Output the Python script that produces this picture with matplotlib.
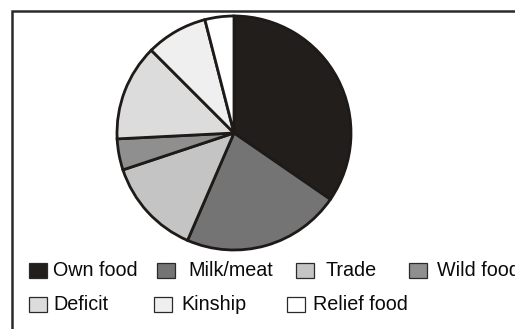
import matplotlib
matplotlib.use("Agg")
import matplotlib.pyplot as plt
from matplotlib.patches import Rectangle

labels = ["Own food", "Milk/meat", "Trade", "Wild food", "Deficit", "Kinship", "Relief food"]
shares = [34.6, 21.9, 13.4, 4.3, 13.3, 8.5, 4.0]
colors = ["#221e1c", "#747474", "#c4c4c4", "#8f8f8f", "#dcdcdc", "#efefef", "#ffffff"]

# legend layout (pixel coords, y from top): square left x, text x, row y
legend_pos = [(29, 53, 270), (157, 188, 270), (296, 325, 270), (409, 437, 270),
              (29, 53, 304), (154, 181, 304), (287, 313, 304)]

W, H = 515, 329
fig = plt.figure(figsize=(W / 100, H / 100), dpi=100)
ax = fig.add_axes([0, 0, 1, 1])

edge = "#1e1a18"
ax.pie(shares, colors=colors, startangle=90, counterclock=False,
       center=(234, H - 133), radius=117,
       wedgeprops=dict(edgecolor=edge, linewidth=2.0))

for (sx, tx, ty), lab, col in zip(legend_pos, labels, colors):
    ax.add_patch(Rectangle((sx, H - ty - 7.5), 18, 15, facecolor=col,
                           edgecolor="#2a2a2a", linewidth=0.9))
    ax.text(tx, H - ty, lab, fontsize=14.2, family="Liberation Sans",
            va="center", ha="left", color="#0a0a0a")

# frame: left and top border, the rest is cut off
ax.plot([12, 12, W + 5], [-5, H - 11, H - 11], color="#2a2a2a", linewidth=1.8,
        solid_joinstyle="miter", clip_on=False)

ax.set_xlim(0, W)
ax.set_ylim(0, H)
ax.set_aspect("auto")
ax.axis("off")

fig.savefig("out.png", dpi=100)
